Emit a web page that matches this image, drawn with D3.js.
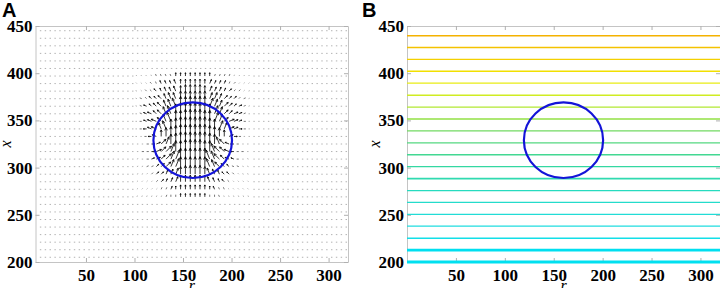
<!DOCTYPE html>
<html>
<head>
<meta charset="utf-8">
<script src="https://cdn.jsdelivr.net/npm/d3@7"></script>
<style>
  body { margin: 0; background: #fff; }
  svg { display: block; }
</style>
</head>
<body>
<div id="container"></div>
<script>
let w = 720;
let h = 288;

// DATA
let rTicks = [50, 100, 150, 200, 250, 300];
let xTicks = [200, 250, 300, 350, 400, 450];

// quiver sample grid (r columns, x rows)
let gridR = [2.5, 7.5, 12.5, 17.5, 22.5, 27.5, 32.5, 37.5, 42.5, 47.5, 52.5, 57.5, 62.5, 67.5, 72.5, 77.5,
  82.5, 87.5, 92.5, 97.5, 102.5, 107.5, 112.5, 117.5, 122.5, 127.5, 132.5, 137.5, 142.5, 147.5, 152.5, 157.5,
  162.5, 167.5, 172.5, 177.5, 182.5, 187.5, 192.5, 197.5, 202.5, 207.5, 212.5, 217.5, 222.5, 227.5, 232.5, 237.5,
  242.5, 247.5, 252.5, 257.5, 262.5, 267.5, 272.5, 277.5, 282.5, 287.5, 292.5, 297.5, 302.5, 307.5, 312.5, 317.5];
let gridX = [205, 213, 221, 229, 237, 245, 253, 261, 269, 277, 285, 293, 301, 309, 317, 325,
  333, 341, 349, 357, 365, 373, 381, 389, 397, 405, 413, 421, 429, 437, 445];

// far field: tiny arrows
let farAngle = "a";
let farLen = "1";

// near field around the inclusion
// angle code: a = pointing right, e = up, i = left (16 steps, counter-clockwise)
// length code: px, hex digit
let fieldR = [102.5, 107.5, 112.5, 117.5, 122.5, 127.5, 132.5, 137.5, 142.5, 147.5, 152.5, 157.5,
  162.5, 167.5, 172.5, 177.5, 182.5, 187.5, 192.5, 197.5, 202.5, 207.5, 212.5, 217.5];
let fieldX = [397, 389, 381, 373, 365, 357, 349, 341, 333, 325, 317, 309, 301, 293, 285, 277, 269];
let fieldAngle = [
  "gggfffffeeeeeeeedddddccc",
  "ggggfffffeeeeeedddddcccc",
  "hggggffffeeeeeeddddccccb",
  "hhggggfffeeeeeedddccccbb",
  "hhhgggfffeeeeeedddcccbbb",
  "ihhhggffeeeeeeeeddccbbba",
  "iihhhgffeeeeeeeeddcbbbaa",
  "iiihhffeeeeeeeeeeddbbaaa",
  "iiiiheeeeeeeeeeeeeebaaaa",
  "aaaabcdeeeeeeeeeefghiiii",
  "aaaabccdeeeeeeeefgghiiii",
  "baabbccddeeeeeeffgghhiih",
  "bbbbcccddeeeeeeffggghhhh",
  "bbccccdddeeeeeefffgggghh",
  "ccccccdddeeeeeefffgggggg",
  "cccccdddeeeeeeeefffggggg",
  "dddddddeeeeeeeeeefffffff"
];
let fieldLen = [
  "111122223333333322221111",
  "111223334444444433322111",
  "112233445566665544332211",
  "122334566777777665433221",
  "123345678999999876543321",
  "123445789aaaaaa987544321",
  "12345579aabbbbaa97554321",
  "12345689abbbbbba98654321",
  "11234689abbbbbba98643211",
  "11234679abbbbbba97643211",
  "12235678aabbbbaa87653221",
  "112345789aaaaaa987543211",
  "112234678999999876432211",
  "111233456788887654332111",
  "111123345666666543321111",
  "111112233444444332211111",
  "111111222333333222111111"
];

let circleCenter = [160, 329];
let circleRadius = [40.5, 40];

// contour levels of panel B
let levels = [200, 212.6, 225.2, 237.9, 250.5, 263.1, 275.7, 288.4, 301, 313.6,
  326.2, 338.9, 351.5, 364.1, 376.7, 389.4, 402, 414.6, 427.2, 439.8];
let levelColors = ["#00e0f0", "#00dff0", "#12dfe8", "#20dde0", "#22dcd6", "#24dccb", "#26dbbf", "#30dab0",
  "#34d8a2", "#42d892", "#54d880", "#72da62", "#92e044", "#b2e832", "#d0ec22", "#e8ec14",
  "#f2e000", "#f4d000", "#f4c200", "#f4b200"];
let levelWidths = [3, 2.6, 1.6, 1.3, 1.3, 1.3, 1.3, 1.8, 1.4, 1.3, 1.3, 1.3, 1.3, 1.3, 1.5, 1.3, 1.5, 1.3, 1.3, 1.5];

// SVG
let viz = d3.select("#container").append("svg")
    .attr("width", w)
    .attr("height", h)
    .style("background-color", "#ffffff");

let top_ = 26, bottom_ = 262;
let panels = [
  {name: "A", left: 35.5, right: 348, rDomain: [-2, 320], labelX: 2, xLabelX: 6},
  {name: "B", left: 407, right: 720, rDomain: [0, 320], labelX: 362, xLabelX: 375}
];

let angleCodes = "abcdefghijklmnop";

panels.forEach(function(p) {
  p.sx = d3.scaleLinear().domain(p.rDomain).range([p.left, p.right]);
  p.sy = d3.scaleLinear().domain([200, 450]).range([bottom_, top_]);
  p.g = viz.append("g");
  p.axes = p.g.append("g");
  p.plot = p.g.append("g");
});

function drawAxes(p) {
  let g = p.axes;
  let tickStyle = function(sel) {
    sel.select(".domain").attr("stroke", "#c4c4c4");
    sel.selectAll(".tick line").attr("stroke", "#b0b0b0");
    sel.selectAll("text")
      .attr("font-family", "'Liberation Serif', 'Times New Roman', serif")
      .attr("font-weight", "bold")
      .attr("font-size", 17)
      .attr("fill", "#000");
  };
  g.append("g").attr("transform", "translate(0," + bottom_ + ")")
    .call(d3.axisBottom(p.sx).tickValues(rTicks).tickSize(-4).tickSizeOuter(0).tickPadding(7))
    .call(tickStyle);
  g.append("g").attr("transform", "translate(0," + top_ + ")")
    .call(d3.axisTop(p.sx).tickValues(rTicks).tickSize(-4).tickSizeOuter(0).tickFormat(""))
    .call(tickStyle);
  g.append("g").attr("transform", "translate(" + p.left + ",0)")
    .call(d3.axisLeft(p.sy).tickValues(xTicks).tickSize(-4).tickSizeOuter(0).tickPadding(3))
    .call(tickStyle);
  g.append("g").attr("transform", "translate(" + p.right + ",0)")
    .call(d3.axisRight(p.sy).tickValues(xTicks).tickSize(-4).tickSizeOuter(0).tickFormat(""))
    .call(tickStyle);

  // axis titles
  g.append("text")
    .attr("x", (p.left + p.right) / 2)
    .attr("y", 291)
    .attr("text-anchor", "middle")
    .attr("font-family", "'Liberation Serif', serif")
    .attr("font-style", "italic")
    .attr("font-size", 16)
    .text("r");
  g.append("text")
    .attr("transform", "translate(" + (p.xLabelX + 5) + "," + ((top_ + bottom_) / 2) + ") rotate(-90)")
    .attr("text-anchor", "middle")
    .attr("font-family", "'Liberation Serif', serif")
    .attr("font-style", "italic")
    .attr("font-size", 16)
    .text("x");
  // panel letter
  g.append("text")
    .attr("x", p.labelX)
    .attr("y", 17)
    .attr("font-family", "'Liberation Sans', Arial, sans-serif")
    .attr("font-weight", "bold")
    .attr("font-size", 20)
    .text(p.name);
}

function drawCircle(p) {
  p.plot.append("ellipse")
    .attr("cx", p.sx(circleCenter[0]))
    .attr("cy", p.sy(circleCenter[1]))
    .attr("rx", p.sx(circleCenter[0] + circleRadius[0]) - p.sx(circleCenter[0]))
    .attr("ry", p.sy(circleCenter[1] - circleRadius[1]) - p.sy(circleCenter[1]))
    .attr("fill", "none")
    .attr("stroke", "#1414d8")
    .attr("stroke-width", 2.2);
}

// PANEL A: quiver
let pA = panels[0];
drawAxes(pA);
let field = {};
fieldX.forEach(function(x, i) {
  fieldR.forEach(function(r, j) {
    field[r + "_" + x] = {a: fieldAngle[i][j], l: fieldLen[i][j]};
  });
});
let arrows = [];
gridX.forEach(function(x) {
  gridR.forEach(function(r) {
    let f = field[r + "_" + x] || {a: farAngle, l: farLen};
    arrows.push({r: r, x: x, ang: angleCodes.indexOf(f.a) * Math.PI / 8, len: parseInt(f.l, 16)});
  });
});

pA.plot.selectAll(".arrow").data(arrows).enter().append("path")
  .attr("class", "arrow")
  .attr("fill", "none")
  .attr("stroke", d => d.len <= 1 ? "#a8a8a8" : (d.len <= 2 ? "#555" : "#000"))
  .attr("stroke-width", d => d.len <= 1 ? 0.9 : 0.8)
  .attr("d", function(d) {
    let x0 = pA.sx(d.r), y0 = pA.sy(d.x);
    let L = d.len <= 1 ? 1.4 : d.len * 1.1;
    let x1 = x0 + L * Math.cos(d.ang), y1 = y0 - L * Math.sin(d.ang);
    let s = "M" + x0 + "," + y0 + "L" + x1 + "," + y1;
    if (d.len > 2) {
      let hl = Math.min(3, 0.35 * L);
      [0.45, -0.45].forEach(function(da) {
        let a = d.ang + Math.PI + da;
        s += "M" + x1 + "," + y1 + "L" + (x1 + hl * Math.cos(a)) + "," + (y1 - hl * Math.sin(a));
      });
    }
    return s;
  });

drawCircle(pA);

// PANEL B: contour lines
let pB = panels[1];
drawAxes(pB);
pB.plot.selectAll(".line").data(levels).enter().append("line")
  .attr("class", "line")
  .attr("x1", pB.sx(0))
  .attr("x2", pB.sx(320))
  .attr("y1", d => pB.sy(d))
  .attr("y2", d => pB.sy(d))
  .attr("stroke", (d, i) => levelColors[i])
  .attr("stroke-width", (d, i) => levelWidths[i]);

drawCircle(pB);
</script>
</body>
</html>
